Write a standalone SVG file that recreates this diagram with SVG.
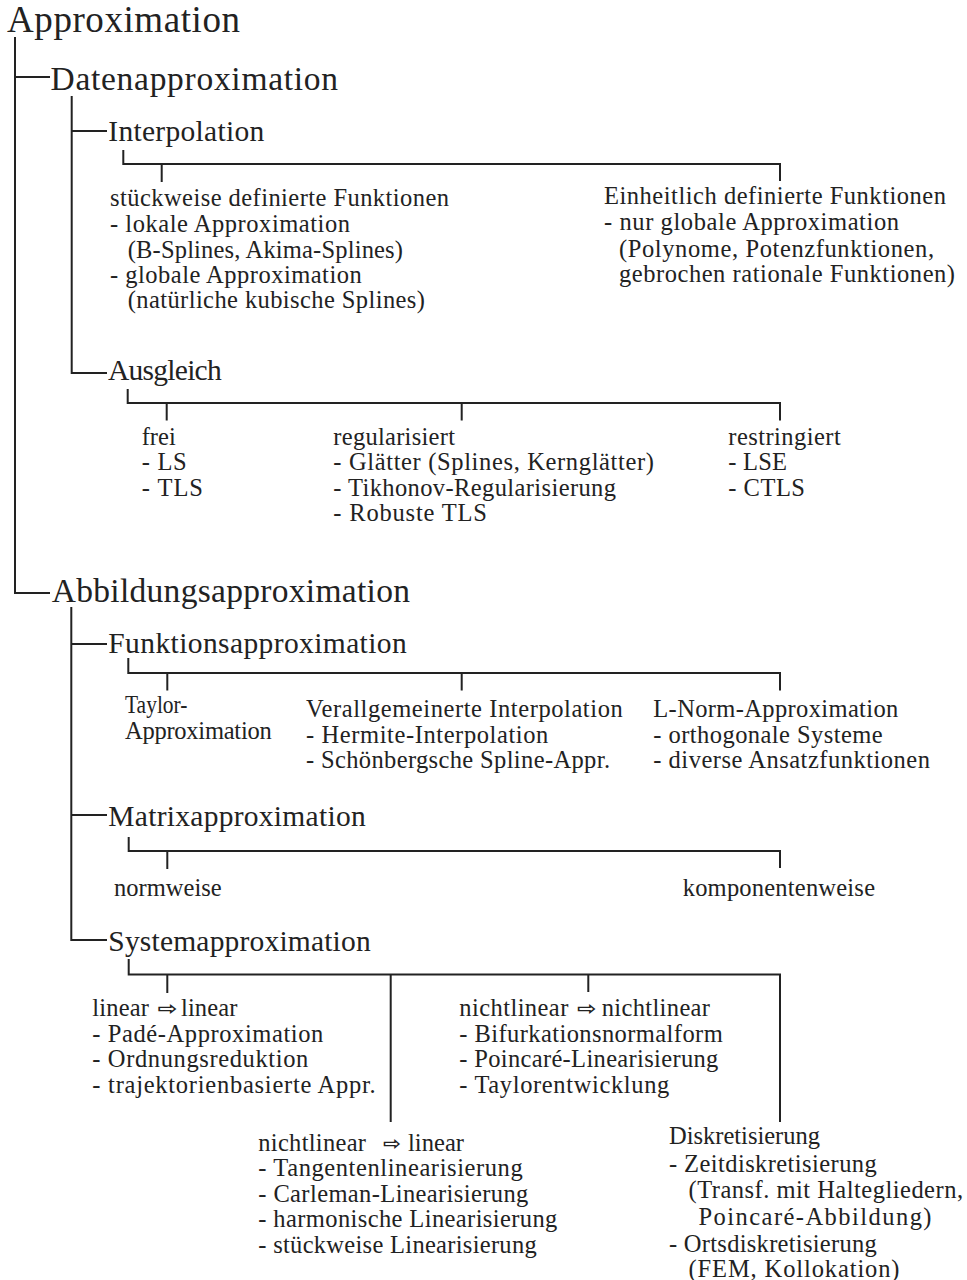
<svg xmlns="http://www.w3.org/2000/svg" width="967" height="1280" viewBox="0 0 967 1280">
<style>
text{font-family:"Liberation Serif","Times New Roman",serif;fill:#222}
.t0{font-size:37px}
.t1{font-size:33.5px}
.t2{font-size:29.5px}
.b{font-size:24.5px}
.ar{font-family:"DejaVu Sans",sans-serif;font-size:19px;font-weight:bold}
.c{fill:none;stroke:#222;stroke-width:2}
</style>
<rect width="967" height="1280" fill="#fff"/>
<g id="connectors" class="c">
<path d="M15,37V593H50M15,77H50"/>
<path d="M71.7,96V373H107M71.7,131H107"/>
<path d="M71.3,607V940H107M71.3,644H107M71.3,815H107"/>
<path d="M123.3,150V164H780V181M161.7,164V182"/>
<path d="M127.7,389V403H780V420.5M166.7,403V420.5M461.7,403V420.5"/>
<path d="M128.3,658V673H780V690.5M167.3,673V690.5M461.7,673V690.5"/>
<path d="M128.7,837V851H780V868M167.3,851V869"/>
<path d="M128.7,959V974.5H780V1122M167.3,974.5V993M588.3,974.5V992M390.7,974.5V1122"/>
</g>
<g id="approximation"><text class="t0" x="7" y="32" textLength="233" lengthAdjust="spacing">Approximation</text></g>
<g id="datenapproximation"><text class="t1" x="50.5" y="90" textLength="287.5" lengthAdjust="spacing">Datenapproximation</text></g>
<g id="interpolation"><text class="t2" x="108.3" y="141" textLength="156" lengthAdjust="spacing">Interpolation</text></g>
<g id="stueckweise" class="b">
<text x="110" y="206" textLength="339" lengthAdjust="spacing">stückweise definierte Funktionen</text>
<text x="110" y="231.7" textLength="240" lengthAdjust="spacing">- lokale Approximation</text>
<text x="127.7" y="257.5" textLength="275.3" lengthAdjust="spacing">(B-Splines, Akima-Splines)</text>
<text x="110" y="283" textLength="251.7" lengthAdjust="spacing">- globale Approximation</text>
<text x="127.7" y="308.3" textLength="297.3" lengthAdjust="spacing">(natürliche kubische Splines)</text>
</g>
<g id="einheitlich" class="b">
<text x="604" y="204" textLength="342" lengthAdjust="spacing">Einheitlich definierte Funktionen</text>
<text x="604" y="230" textLength="295" lengthAdjust="spacing">- nur globale Approximation</text>
<text x="619" y="256.5" textLength="315" lengthAdjust="spacing">(Polynome, Potenzfunktionen,</text>
<text x="619" y="281.7" textLength="336" lengthAdjust="spacing">gebrochen rationale Funktionen)</text>
</g>
<g id="ausgleich"><text class="t2" x="108" y="380" textLength="113.7" lengthAdjust="spacing">Ausgleich</text></g>
<g id="frei" class="b">
<text x="141.7" y="444.5" textLength="34" lengthAdjust="spacing">frei</text>
<text x="141.7" y="470" textLength="45" lengthAdjust="spacing">- LS</text>
<text x="141.7" y="495.5" textLength="61.3" lengthAdjust="spacing">- TLS</text>
</g>
<g id="regularisiert" class="b">
<text x="333.3" y="444.5" textLength="121.7" lengthAdjust="spacing">regularisiert</text>
<text x="333.3" y="470" textLength="320.7" lengthAdjust="spacing">- Glätter (Splines, Kernglätter)</text>
<text x="333.3" y="495.5" textLength="282.7" lengthAdjust="spacing">- Tikhonov-Regularisierung</text>
<text x="333.3" y="521" textLength="153.7" lengthAdjust="spacing">- Robuste TLS</text>
</g>
<g id="restringiert" class="b">
<text x="728.3" y="444.5" textLength="112.4" lengthAdjust="spacing">restringiert</text>
<text x="728.3" y="470" textLength="58.7" lengthAdjust="spacing">- LSE</text>
<text x="728.3" y="495.5" textLength="76.7" lengthAdjust="spacing">- CTLS</text>
</g>
<g id="abbildungsapproximation"><text class="t1" x="51.7" y="602" textLength="358.3" lengthAdjust="spacing">Abbildungsapproximation</text></g>
<g id="funktionsapproximation"><text class="t2" x="108.3" y="652.7" textLength="298.4" lengthAdjust="spacing">Funktionsapproximation</text></g>
<g id="taylor" class="b">
<text x="125" y="713" textLength="62.5" lengthAdjust="spacingAndGlyphs">Taylor-</text>
<text x="125" y="739" textLength="146.7" lengthAdjust="spacing">Approximation</text>
</g>
<g id="verallgemeinerte" class="b">
<text x="306" y="717" textLength="316.7" lengthAdjust="spacing">Verallgemeinerte Interpolation</text>
<text x="306" y="742.5" textLength="242.3" lengthAdjust="spacing">- Hermite-Interpolation</text>
<text x="306" y="768" textLength="304" lengthAdjust="spacing">- Schönbergsche Spline-Appr.</text>
</g>
<g id="lnorm" class="b">
<text x="653.3" y="717" textLength="245" lengthAdjust="spacing">L-Norm-Approximation</text>
<text x="653.3" y="742.5" textLength="229.4" lengthAdjust="spacing">- orthogonale Systeme</text>
<text x="653.3" y="768" textLength="276.7" lengthAdjust="spacing">- diverse Ansatzfunktionen</text>
</g>
<g id="matrixapproximation"><text class="t2" x="108.3" y="826" textLength="257.4" lengthAdjust="spacing">Matrixapproximation</text></g>
<g id="normweise"><text class="b" x="114" y="895.5" textLength="107.7" lengthAdjust="spacing">normweise</text></g>
<g id="komponentenweise"><text class="b" x="682.7" y="895.5" textLength="192.3" lengthAdjust="spacing">komponentenweise</text></g>
<g id="systemapproximation"><text class="t2" x="108.3" y="950.7" textLength="262.4" lengthAdjust="spacing">Systemapproximation</text></g>
<g id="linlin" class="b">
<text x="92.3" y="1016" textLength="56.7" lengthAdjust="spacing">linear</text>
<text class="ar" x="157.5" y="1015" textLength="20" lengthAdjust="spacingAndGlyphs">⇨</text>
<text x="181" y="1016" textLength="56.3" lengthAdjust="spacing">linear</text>
<text x="92.3" y="1041.5" textLength="231" lengthAdjust="spacing">- Padé-Approximation</text>
<text x="92.3" y="1067" textLength="216" lengthAdjust="spacing">- Ordnungsreduktion</text>
<text x="92.3" y="1093" textLength="283.4" lengthAdjust="spacing">- trajektorienbasierte Appr.</text>
</g>
<g id="nlnl" class="b">
<text x="459.3" y="1016" textLength="109" lengthAdjust="spacing">nichtlinear</text>
<text class="ar" x="577" y="1015" textLength="19.5" lengthAdjust="spacingAndGlyphs">⇨</text>
<text x="601.7" y="1016" textLength="108.3" lengthAdjust="spacing">nichtlinear</text>
<text x="459.3" y="1041.5" textLength="263.4" lengthAdjust="spacing">- Bifurkationsnormalform</text>
<text x="459.3" y="1067" textLength="259" lengthAdjust="spacing">- Poincaré-Linearisierung</text>
<text x="459.3" y="1093" textLength="210" lengthAdjust="spacing">- Taylorentwicklung</text>
</g>
<g id="nllin" class="b">
<text x="258.3" y="1150.5" textLength="107.7" lengthAdjust="spacing">nichtlinear</text>
<text class="ar" x="383" y="1149.5" textLength="18" lengthAdjust="spacingAndGlyphs">⇨</text>
<text x="408" y="1150.5" textLength="56" lengthAdjust="spacing">linear</text>
<text x="258.3" y="1176" textLength="264.4" lengthAdjust="spacing">- Tangentenlinearisierung</text>
<text x="258.3" y="1201.7" textLength="270" lengthAdjust="spacing">- Carleman-Linearisierung</text>
<text x="258.3" y="1227.3" textLength="299" lengthAdjust="spacing">- harmonische Linearisierung</text>
<text x="258.3" y="1253.3" textLength="278.4" lengthAdjust="spacing">- stückweise Linearisierung</text>
</g>
<g id="diskretisierung" class="b">
<text x="669" y="1144" textLength="151" lengthAdjust="spacing">Diskretisierung</text>
<text x="669" y="1171.5" textLength="207.7" lengthAdjust="spacing">- Zeitdiskretisierung</text>
<text x="688.5" y="1198.3" textLength="274.5" lengthAdjust="spacing">(Transf. mit Haltegliedern,</text>
<text x="698.5" y="1225" textLength="233" lengthAdjust="spacing">Poincaré-Abbildung)</text>
<text x="669" y="1251.7" textLength="207.7" lengthAdjust="spacing">- Ortsdiskretisierung</text>
<text x="688.5" y="1277" textLength="211" lengthAdjust="spacing">(FEM, Kollokation)</text>
</g>
</svg>
